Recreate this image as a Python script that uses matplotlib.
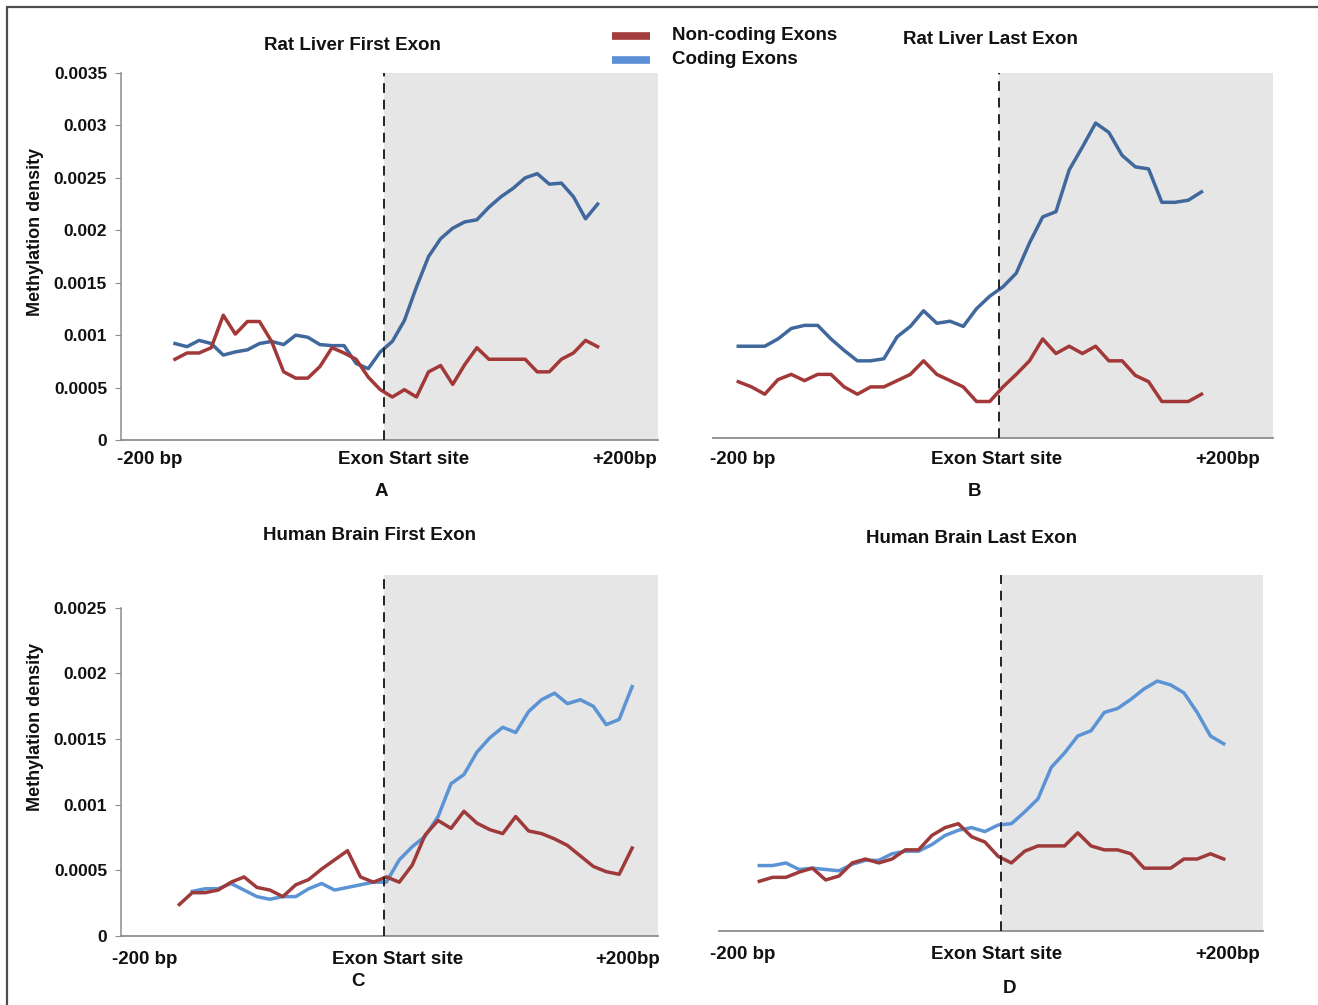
import numpy as np
import matplotlib
matplotlib.use("Agg")
import matplotlib.pyplot as plt
from matplotlib.patches import Rectangle

plt.rcParams['font.family'] = ['Liberation Sans', 'DejaVu Sans']
plt.rcParams['font.weight'] = 'bold'

# ---- data: methylation density per 10-bp bin around the exon start ----
rat_first_noncoding = [0.00077, 0.00083, 0.00083, 0.00088, 0.00119, 0.00101, 0.00113, 0.00113,
                       0.00094, 0.00065, 0.00059, 0.00059, 0.00070, 0.00088, 0.00083, 0.00077,
                       0.00060, 0.00048, 0.00041, 0.00048, 0.00041, 0.00065, 0.00071, 0.00053,
                       0.00072, 0.00088, 0.00077, 0.00077, 0.00077, 0.00077, 0.00065, 0.00065,
                       0.00077, 0.00083, 0.00095, 0.00089]
rat_first_coding = [0.00092, 0.00089, 0.00095, 0.00092, 0.00081, 0.00084, 0.00086, 0.00092,
                    0.00094, 0.00091, 0.00100, 0.00098, 0.00091, 0.00090, 0.00090, 0.00073,
                    0.00068, 0.00084, 0.00094, 0.00114, 0.00146, 0.00175, 0.00192, 0.00202,
                    0.00208, 0.00210, 0.00222, 0.00232, 0.00240, 0.00250, 0.00254, 0.00244,
                    0.00245, 0.00232, 0.00211, 0.00225]

rat_last_noncoding = [0.00054, 0.00049, 0.00042, 0.00056, 0.00061, 0.00055, 0.00061, 0.00061,
                      0.00049, 0.00042, 0.00049, 0.00049, 0.00055, 0.00061, 0.00074, 0.00061,
                      0.00055, 0.00049, 0.00035, 0.00035, 0.00049, 0.00061, 0.00074, 0.00095,
                      0.00081, 0.00088, 0.00081, 0.00088, 0.00074, 0.00074, 0.00060, 0.00054,
                      0.00035, 0.00035, 0.00035, 0.00042]
rat_last_coding = [0.00088, 0.00088, 0.00088, 0.00095, 0.00105, 0.00108, 0.00108, 0.00095,
                   0.00084, 0.00074, 0.00074, 0.00076, 0.00097, 0.00107, 0.00122, 0.00110,
                   0.00112, 0.00107, 0.00124, 0.00136, 0.00145, 0.00158, 0.00187, 0.00212,
                   0.00217, 0.00257, 0.00279, 0.00302, 0.00293, 0.00271, 0.00260, 0.00258,
                   0.00226, 0.00226, 0.00228, 0.00236]

brain_first_noncoding = [0.00024, 0.00033, 0.00033, 0.00035, 0.00041, 0.00045, 0.00037, 0.00035,
                         0.00030, 0.00039, 0.00043, 0.00051, 0.00058, 0.00065, 0.00045, 0.00041,
                         0.00045, 0.00041, 0.00054, 0.00077, 0.00088, 0.00082, 0.00095, 0.00086,
                         0.00081, 0.00078, 0.00091, 0.00080, 0.00078, 0.00074, 0.00069, 0.00061,
                         0.00053, 0.00049, 0.00047, 0.00067]
brain_first_coding = [np.nan, 0.00034, 0.00036, 0.00036, 0.00040, 0.00035, 0.00030, 0.00028,
                      0.00030, 0.00030, 0.00036, 0.00040, 0.00035, 0.00037, 0.00039, 0.00041,
                      0.00041, 0.00058, 0.00068, 0.00076, 0.00091, 0.00116, 0.00123, 0.00140,
                      0.00151, 0.00159, 0.00155, 0.00171, 0.00180, 0.00185, 0.00177, 0.00180,
                      0.00175, 0.00161, 0.00165, 0.00190]

brain_last_noncoding = [0.00038, 0.00041, 0.00041, 0.00045, 0.00048, 0.00039, 0.00042, 0.00052,
                        0.00055, 0.00052, 0.00055, 0.00062, 0.00062, 0.00073, 0.00079, 0.00082,
                        0.00072, 0.00068, 0.00057, 0.00052, 0.00061, 0.00065, 0.00065, 0.00065,
                        0.00075, 0.00065, 0.00062, 0.00062, 0.00059, 0.00048, 0.00048, 0.00048,
                        0.00055, 0.00055, 0.00059, 0.00055]
brain_last_coding = [0.00050, 0.00050, 0.00052, 0.00047, 0.00048, 0.00047, 0.00046, 0.00051,
                     0.00054, 0.00054, 0.00059, 0.00061, 0.00061, 0.00066, 0.00073, 0.00077,
                     0.00079, 0.00076, 0.00081, 0.00082, 0.00091, 0.00101, 0.00125, 0.00136,
                     0.00149, 0.00153, 0.00167, 0.00170, 0.00177, 0.00185, 0.00191, 0.00188,
                     0.00182, 0.00167, 0.00149, 0.00143]

titles = ["Rat Liver First Exon", "Rat Liver Last Exon",
          "Human Brain First Exon", "Human Brain Last Exon"]
panel_letters = ["A", "B", "C", "D"]
series_names = ["Non-coding Exons", "Coding Exons"]
edge_labels = ["-200 bp", "Exon Start site", "+200bp"]
ytick_rat = [0, 0.0005, 0.001, 0.0015, 0.002, 0.0025, 0.003, 0.0035]
ytick_brain = [0, 0.0005, 0.001, 0.0015, 0.002, 0.0025]

# ---- figure layout (pixel helpers) ----
W, H = 1318, 1005
fig = plt.figure(figsize=(W / 100, H / 100), dpi=100)


def fx(px):
    return px / W


def fy(py):
    return 1 - py / H


def box(x0, y0, x1, y1):
    return [fx(x0), fy(y1), fx(x1) - fx(x0), fy(y0) - fy(y1)]


red_dark = "#a23838"
red_soft = "#9e3a3a"
blue_dark = "#41689c"
blue_light = "#5b93d5"

panels = [
    dict(rect=box(121, 73, 658, 440), xlim=(-4.47, 40.0), cut=17.3, ymax=0.0035,
         yticks=ytick_rat, nc=rat_first_noncoding, c=rat_first_coding,
         ncol=red_dark, ccol=blue_dark, yaxis=True),
    dict(rect=box(713, 73, 1273, 438), xlim=(-1.91, 40.4), cut=19.7, ymax=0.0035,
         yticks=None, nc=rat_last_noncoding, c=rat_last_coding,
         ncol=red_dark, ccol=blue_dark, yaxis=False),
    dict(rect=box(121, 575, 658, 936), xlim=(-4.51, 37.0), cut=15.83, ymax=0.00275,
         yticks=ytick_brain, nc=brain_first_noncoding, c=brain_first_coding,
         ncol=red_soft, ccol=blue_light, yaxis=True),
    dict(rect=box(719, 575, 1263, 931), xlim=(-3.04, 37.96), cut=18.2, ymax=0.00272,
         yticks=None, nc=brain_last_noncoding, c=brain_last_coding,
         ncol=red_soft, ccol=blue_light, yaxis=False),
]

for p in panels:
    ax = fig.add_axes(p["rect"])
    ax.set_facecolor("none")
    x = np.arange(len(p["nc"]))
    ax.axvspan(p["cut"], p["xlim"][1], color="#e6e6e6", zorder=0, lw=0)
    ax.plot(x, p["c"], color=p["ccol"], lw=2.5, zorder=3, solid_joinstyle="round")
    ax.plot(x, p["nc"], color=p["ncol"], lw=2.5, zorder=4, solid_joinstyle="round")
    ax.axvline(p["cut"], color="#222222", lw=1.4, ls=(0, (5, 3.5)), zorder=5)
    ax.set_xlim(*p["xlim"])
    ax.set_ylim(0, p["ymax"])
    for s in ["top", "right"]:
        ax.spines[s].set_visible(False)
    ax.spines["bottom"].set_color("#8c8c8c")
    ax.spines["bottom"].set_linewidth(1.3)
    ax.set_xticks([])
    if p["yaxis"]:
        ax.spines["left"].set_color("#8c8c8c")
        ax.spines["left"].set_linewidth(1.1)
        ax.spines["left"].set_bounds(0, p["yticks"][-1])
        ax.set_yticks(p["yticks"])
        ax.set_yticklabels(["0" if v == 0 else f"{v:g}" for v in p["yticks"]],
                           fontsize=12.5, fontweight="bold", color="#111111")
        ax.tick_params(axis="y", length=4, color="#8c8c8c", pad=6)
    else:
        ax.spines["left"].set_visible(False)
        ax.set_yticks([])

# ---- titles, axis annotations and panel letters ----
txt = dict(fontsize=13.5, fontweight="bold", color="#111111", ha="center", va="center")
fig.text(fx(352), fy(45), titles[0], **txt)
fig.text(fx(990), fy(39), titles[1], **txt)
fig.text(fx(369), fy(535), titles[2], **txt)
fig.text(fx(972), fy(538), titles[3], **txt)

label_rows = [
    ((150, 404, 625), 459, 381, 492),
    ((743, 997, 1228), 459, 975, 492),
    ((145, 398, 628), 959, 358, 981),
    ((743, 997, 1228), 954, 1010, 988),
]
for (xs, yl, xl, yletter), letter in zip(label_rows, panel_letters):
    for xp, lab in zip(xs, edge_labels):
        fig.text(fx(xp), fy(yl), lab, **txt)
    fig.text(fx(xl), fy(yletter), letter, **txt)

fig.text(fx(36), fy(232), "Methylation density", rotation=90, fontsize=13,
         fontweight="bold", color="#111111", ha="center", va="center")
fig.text(fx(36), fy(727), "Methylation density", rotation=90, fontsize=13,
         fontweight="bold", color="#111111", ha="center", va="center")

# ---- shared legend ----
legend_ax = fig.add_axes(box(600, 22, 860, 74))
legend_ax.axis("off")
legend_ax.set_xlim(0, 260)
legend_ax.set_ylim(52, 0)
legend_ax.plot([12, 50], [14, 14], color="#a33c3c", lw=5.5, solid_capstyle="butt")
legend_ax.plot([12, 50], [38, 38], color="#5b8fd6", lw=5.5, solid_capstyle="butt")
legend_ax.text(72, 14, series_names[0], fontsize=13.5, fontweight="bold",
               color="#111111", va="center", ha="left")
legend_ax.text(72, 38, series_names[1], fontsize=13.5, fontweight="bold",
               color="#111111", va="center", ha="left")

# ---- outer frame ----
fig.patches.append(Rectangle((fx(7), -0.02), 1.05, fy(7) + 0.02, transform=fig.transFigure,
                             fill=False, edgecolor="#4d4d4d", lw=1.6))

fig.savefig("out.png", dpi=100)
